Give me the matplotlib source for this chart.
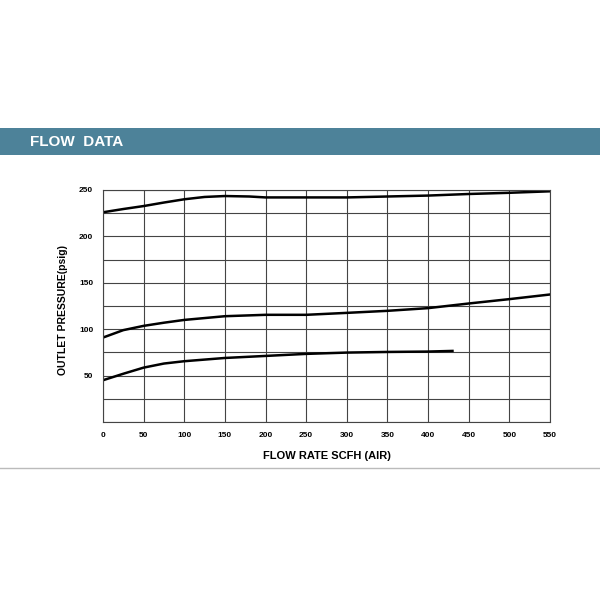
import matplotlib
matplotlib.use("Agg")
import matplotlib.pyplot as plt
from matplotlib.patches import Rectangle
from matplotlib.lines import Line2D

# flow rate (SCFH air) vs outlet pressure (psig)
flow_high = [0, 25, 50, 75, 100, 125, 150, 180, 200, 250, 300, 350, 400, 450, 500, 550]
psig_high = [226, 229.5, 232.7, 236.5, 240, 242.5, 243.5, 243, 242, 242, 242, 243, 244, 245.7, 247, 248.6]

flow_mid = [0, 25, 50, 75, 100, 150, 200, 250, 300, 350, 400, 450, 500, 550]
psig_mid = [91, 99, 103.6, 107, 110, 114, 115.5, 115.5, 117.6, 119.8, 122.7, 127.7, 132.4, 137.4]

flow_low = [0, 25, 50, 75, 100, 150, 200, 250, 300, 350, 400, 430]
psig_low = [45, 52, 58.6, 63, 65.5, 69, 71.2, 73.4, 74.8, 75.5, 75.9, 76.6]

x_ticks = [0, 50, 100, 150, 200, 250, 300, 350, 400, 450, 500, 550]
y_ticks = [50, 100, 150, 200, 250]

narrow = ["Liberation Sans Narrow", "Liberation Sans", "DejaVu Sans"]

fig = plt.figure(figsize=(6, 6), dpi=100)
fig.patch.set_facecolor("white")

# header banner
fig.patches.append(Rectangle((0, 1 - 155 / 600), 1, 27 / 600, transform=fig.transFigure,
                             facecolor="#4d8299", edgecolor="none"))
fig.text(30 / 600, 1 - 142 / 600, "FLOW  DATA", color="white", fontsize=11,
         fontweight="bold", va="center", ha="left", family=narrow)
fig.lines.append(Line2D([0, 1], [1 - 468 / 600] * 2, transform=fig.transFigure,
                        color="#bbbbbb", lw=1))

ax = fig.add_axes([103 / 600, 1 - 422 / 600, 447 / 600, 232 / 600])
ax.plot(flow_high, psig_high, color="black", lw=1.8)
ax.plot(flow_mid, psig_mid, color="black", lw=1.8)
ax.plot(flow_low, psig_low, color="black", lw=1.8)

ax.set_xlim(0, 550)
ax.set_ylim(0, 250)
ax.set_xticks(x_ticks)
ax.set_yticks(range(0, 251, 25))
ax.set_yticklabels(["" if v not in y_ticks else str(v) for v in range(0, 251, 25)])
ax.grid(True, color="#444444", lw=0.8)
ax.tick_params(length=0, labelsize=6, pad=7)
for lab in ax.get_xticklabels() + ax.get_yticklabels():
    lab.set_fontweight("bold")
    lab.set_family(narrow)
for s in ax.spines.values():
    s.set_color("#444444")
    s.set_linewidth(0.8)

ax.set_xlabel("FLOW RATE SCFH (AIR)", fontsize=8, fontweight="bold", labelpad=9, family=narrow)
ax.set_ylabel("OUTLET PRESSURE(psig)", fontsize=7.5, fontweight="bold", family=narrow)
ax.yaxis.set_label_coords(-0.078, 0.483)

fig.savefig("out.png", dpi=100)
